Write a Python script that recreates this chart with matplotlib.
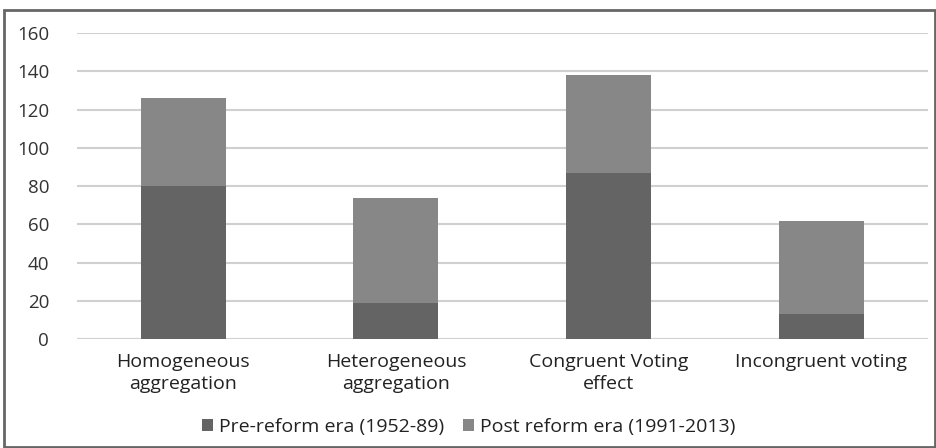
import numpy as np
import matplotlib.pyplot as plt
from matplotlib.patches import Rectangle

plt.rcParams['font.family'] = ['Open Sans', 'DejaVu Sans']

categories = ['Homogeneous\naggregation', 'Heterogeneous\naggregation',
              'Congruent Voting\neffect', 'Incongruent voting']
pre_reform = [80, 19, 87, 13]
post_reform = [46, 55, 51, 49]
yticks = [0, 20, 40, 60, 80, 100, 120, 140, 160]

fig = plt.figure(figsize=(9.37, 4.48), dpi=100)
ax = fig.add_axes([0.082, 0.243, 0.908, 0.683])

x = np.arange(len(categories))
ax.bar(x, pre_reform, width=0.4, color='#646464', label='Pre-reform era (1952-89)', zorder=3)
ax.bar(x, post_reform, width=0.4, bottom=pre_reform, color='#878787',
       label='Post reform era (1991-2013)', zorder=3)

ax.set_xlim(-0.5, 3.5)
ax.set_ylim(0, 160)
ax.set_yticks(yticks)
ax.set_yticklabels([str(v) for v in yticks], fontsize=13.5, color='#333333')
ax.set_xticks(x)
ax.set_xticklabels(categories, fontsize=14, color='#222222', linespacing=1.25)
ax.tick_params(axis='both', length=0)
ax.tick_params(axis='y', pad=20)
ax.tick_params(axis='x', pad=10)
ax.yaxis.grid(True, color='#d0d0d0', linewidth=1.5, zorder=0)
for s in ax.spines.values():
    s.set_visible(False)

fig.legend(loc='lower center', bbox_to_anchor=(0.5, -0.012), ncol=2, frameon=False,
           fontsize=14, handlelength=0.55, handleheight=0.55, handletextpad=0.3,
           columnspacing=1.0, labelcolor='#222222')

fig.patches.append(Rectangle((0.004, 0.002), 0.994, 0.975, transform=fig.transFigure,
                             fill=False, edgecolor='#666666', linewidth=2))

plt.savefig('out.png', dpi=100)
